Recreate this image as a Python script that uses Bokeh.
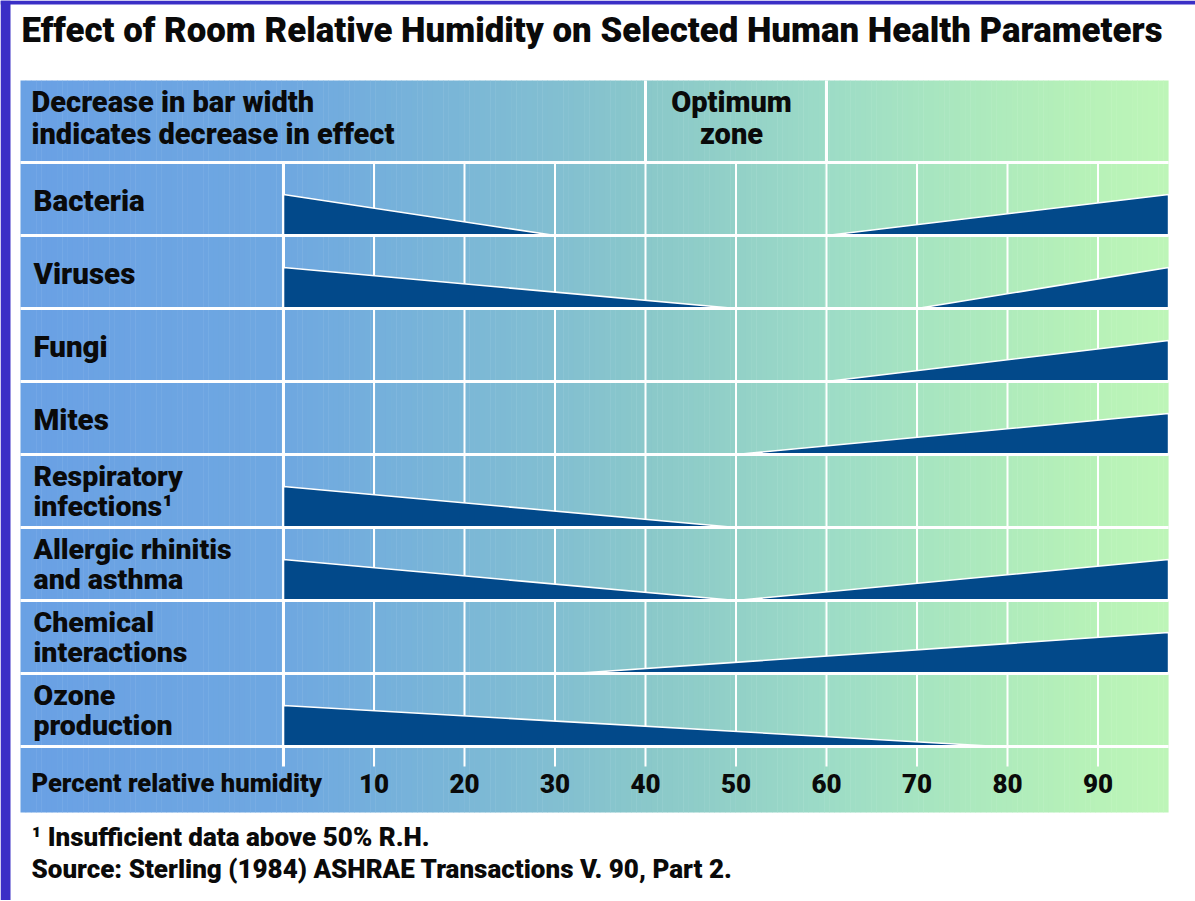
import numpy as np
from bokeh.plotting import figure
from bokeh.models import Range1d
from bokeh.core.properties import value
from bokeh.embed import file_html
from bokeh.resources import INLINE

# ---------------- data ----------------
title = "Effect of Room Relative Humidity on Selected Human Health Parameters"
parameters = [
    "Bacteria",
    "Viruses",
    "Fungi",
    "Mites",
    "Respiratory\ninfections\u00b9",
    "Allergic rhinitis\nand asthma",
    "Chemical\ninteractions",
    "Ozone\nproduction",
]
# relative humidity (%) where the low-humidity (decreasing) bar ends; None = no bar
low_side_end = [30, 50, None, None, 50, 50, None, 79]
# relative humidity (%) where the high-humidity (increasing) bar starts; None = no bar
high_side_start = [60, 70, 60, 50, None, 50, 32, None]
rh_ticks = [10, 20, 30, 40, 50, 60, 70, 80, 90]
rh_max = 97.8
optimum_zone = [40, 60]
header_left = ["Decrease in bar width", "indicates decrease in effect"]
header_mid = ["Optimum", "zone"]
axis_label = "Percent relative humidity"
footnotes = ["\u00b9 Insufficient data above 50% R.H.",
             "Source: Sterling (1984) ASHRAE Transactions V. 90, Part 2."]

# ---------------- layout (page pixels) ----------------
W, H = 1195, 900
X0_PX, PX_PER_RH = 283.0, 9.05     # page x of 0 % RH, pixels per % RH
ROW0_PX, ROW_PX = 162.0, 73.0      # page y of first row top, row height
BAR_MAX = 41.0 / ROW_PX            # max bar thickness in row units
FONT = "Roboto Black"
NAVY = "#02498a"
INK = "#0a0a0a"


def X(px):
    return (px - X0_PX) / PX_PER_RH


def Y(py):
    return (py - ROW0_PX) / ROW_PX


p = figure(width=W, height=H, output_backend="svg", toolbar_location=None,
           x_range=Range1d(X(0), X(W)), y_range=Range1d(Y(H), Y(0)),
           min_border=0, outline_line_color=None, background_fill_color="white",
           border_fill_color="white")
p.axis.visible = False
p.grid.visible = False

# outer blue frame
p.quad(left=X(0), right=X(10), top=Y(0), bottom=Y(H), fill_color="#3a2fc6", line_color=None)
p.quad(left=X(0), right=X(W), top=Y(0), bottom=Y(4), fill_color="#3a2fc6", line_color=None)

# background gradient (blue -> light green)
panel_left, panel_top, panel_bottom = X(20), Y(80), Y(812)
stops_px = [20, 283, 376, 563, 651, 735, 826, 921, 1010, 1094, 1168]
stops_rgb = [(106, 161, 229), (111, 168, 225), (117, 176, 220), (131, 192, 209),
             (139, 201, 202), (147, 209, 200), (157, 220, 199), (167, 229, 193),
             (176, 236, 188), (184, 242, 184), (190, 246, 184)]
N = 220
edges = np.linspace(panel_left, rh_max, N + 1)
mids_px = (edges[:-1] + edges[1:]) / 2 * PX_PER_RH + X0_PX
cols = []
for m in mids_px:
    r = np.interp(m, stops_px, [c[0] for c in stops_rgb])
    g = np.interp(m, stops_px, [c[1] for c in stops_rgb])
    b = np.interp(m, stops_px, [c[2] for c in stops_rgb])
    cols.append("#%02x%02x%02x" % (int(r), int(g), int(b)))
p.quad(left=edges[:-1], right=np.append(edges[1:-1] + 0.05, rh_max), top=panel_top,
       bottom=panel_bottom, fill_color=cols, line_color=None)

# white grid
n_rows = len(parameters)
tick_bottom = Y(766)
p.segment(x0=[0] + rh_ticks, x1=[0] + rh_ticks, y0=0, y1=tick_bottom,
          line_color="white", line_width=[3] + [2] * len(rh_ticks))
p.segment(x0=optimum_zone, x1=optimum_zone, y0=panel_top, y1=0, line_color="white", line_width=3)

# bars (triangles): thick at the humidity extremes, vanishing toward the optimum
xs, ys = [], []
for i, (lo, hi) in enumerate(zip(low_side_end, high_side_start)):
    base = i + 1
    if lo is not None:
        xs.append([0, 0, lo])
        ys.append([base, base - BAR_MAX, base])
    if hi is not None:
        xs.append([hi, rh_max, rh_max])
        ys.append([base, base - BAR_MAX, base])
p.patches(xs=xs, ys=ys, fill_color=NAVY, line_color="white", line_width=1.6)

p.segment(x0=panel_left, x1=rh_max, y0=list(range(0, n_rows + 1)), y1=list(range(0, n_rows + 1)),
          line_color="white", line_width=3)


# ---------------- texts ----------------
def txt(x, base_px, t, size, align="left"):
    # base_px: wanted page y of the text baseline
    y = [Y(b - 0.4 * size) for b in base_px]
    p.text(x=x, y=y, text=t, text_font=value(FONT), text_font_style="bold",
           text_font_size="%.1fpx" % size, text_color=INK, text_align=align,
           text_baseline="alphabetic")


txt([X(21)], [43.5], [title], 34.8)
txt([X(31)] * 2, [113, 145], header_left, 29)
txt([X(731)] * 2, [113, 145], header_mid, 29, align="center")

for i, name in enumerate(parameters):
    lines = name.split("\n")
    top = ROW0_PX + i * ROW_PX
    if len(lines) == 1:
        txt([X(33)], [top + 50], lines, 29.5)
    else:
        txt([X(33)] * len(lines), [top + 33 + 30.5 * j for j in range(len(lines))], lines, 28.5)

txt([X(31)], [793], [axis_label], 25.5)
txt(rh_ticks, [793] * len(rh_ticks), [str(t) for t in rh_ticks], 26, align="center")

txt([X(31)] * 2, [847, 879], footnotes, 26)

open("out.html", "w").write(file_html(p, INLINE))
